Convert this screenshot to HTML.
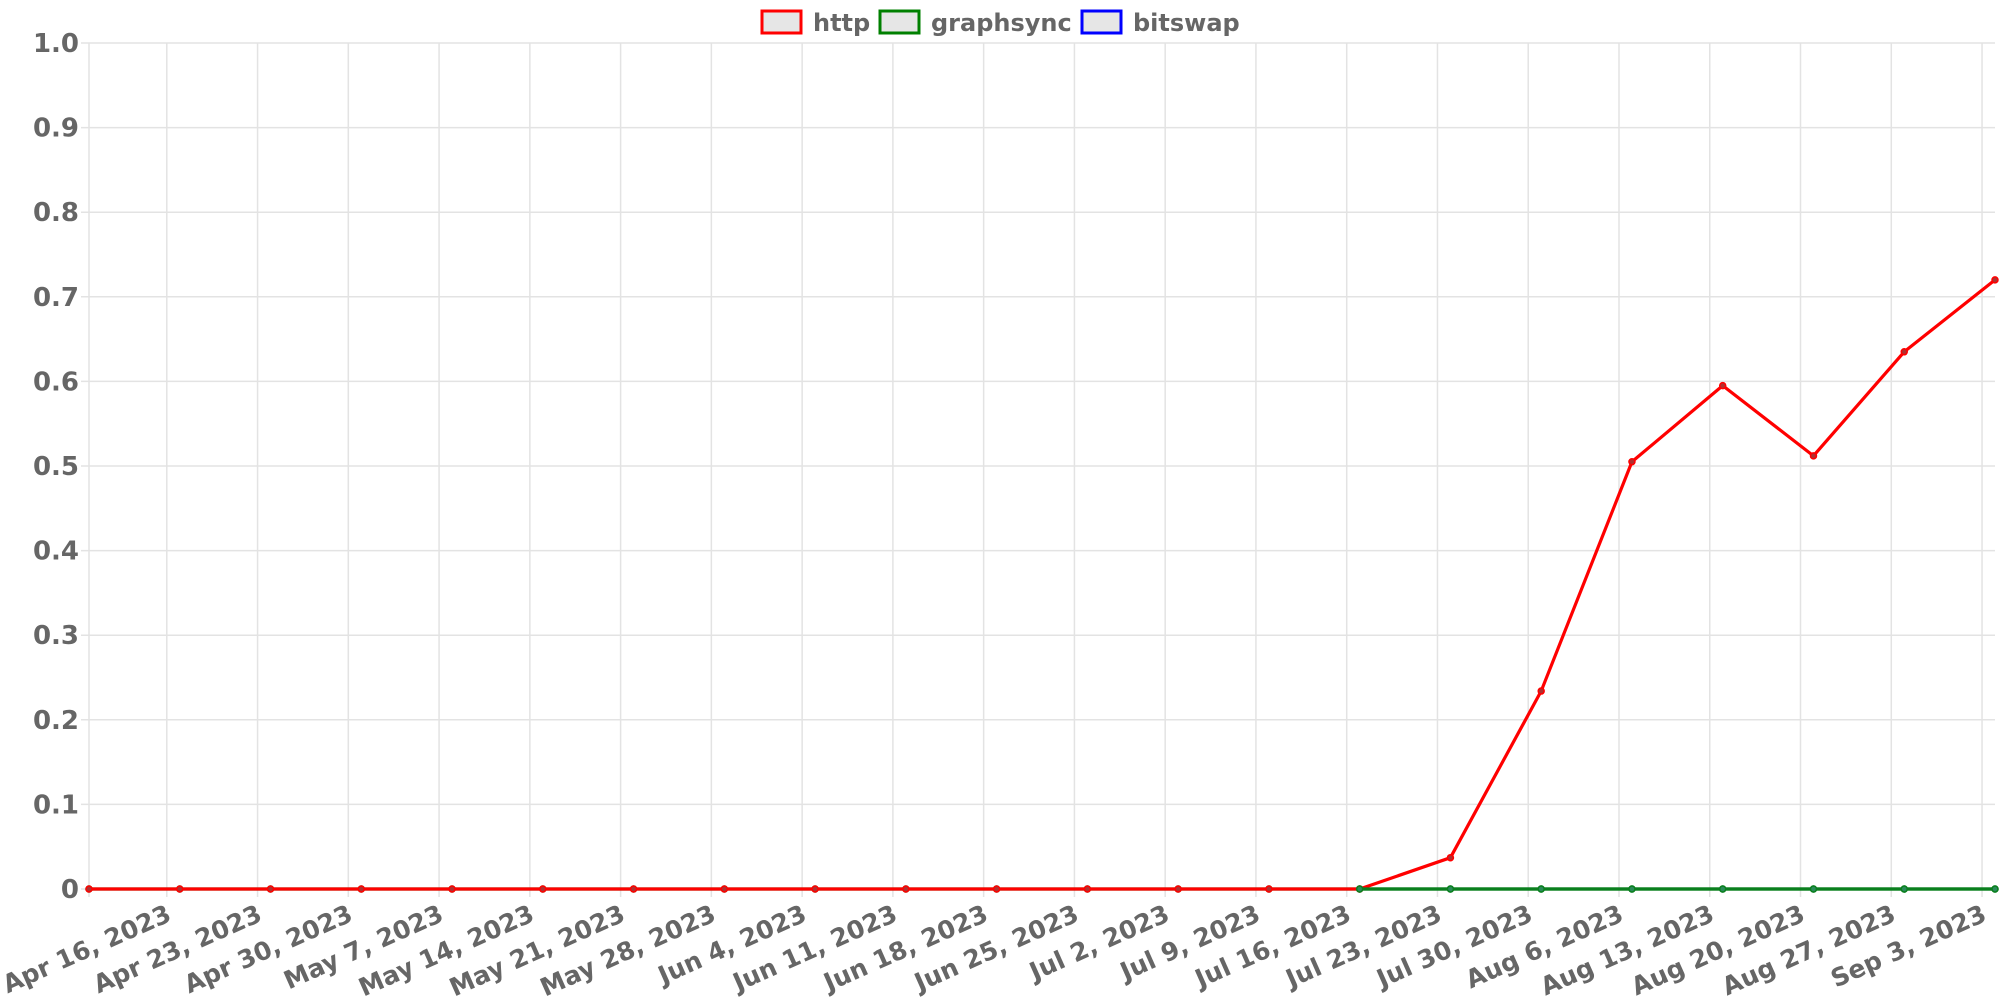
<!DOCTYPE html>
<html><head><meta charset="utf-8"><style>
body{margin:0;background:#fff}
svg{display:block;font-family:"DejaVu Sans","Liberation Sans",sans-serif;font-weight:bold}
</style></head><body>
<svg id="chart" width="2000" height="1000" viewBox="0 0 2000 1000" xmlns="http://www.w3.org/2000/svg">
<g id="grid"></g>
<g id="ylabels"></g>
<g id="xlabels"></g>
<g id="series"></g>
<g font-size="24" fill="#666">
  <g><rect x="762" y="11" width="39" height="22" fill="#e6e6e6" stroke="red" stroke-width="3"/><text x="813" y="31">http</text></g>
  <g><rect x="880" y="11" width="39" height="22" fill="#e6e6e6" stroke="green" stroke-width="3"/><text x="931" y="31">graphsync</text></g>
  <g><rect x="1082" y="11" width="39" height="22" fill="#e6e6e6" stroke="blue" stroke-width="3"/><text x="1133" y="31">bitswap</text></g>
</g>
</svg>
<script>
const dayOffsets=[0,7,14,21,28,35,42,49,56,63,70,77,84,91,98,105,112,119,126,133,140,147]; // days from Apr 10, 2023
const httpValues=[0,0,0,0,0,0,0,0,0,0,0,0,0,0,0,0.037,0.234,0.505,0.595,0.512,0.635,0.72];
const graphsyncValues=[0,0,0,0,0,0,0,0,0,0,0,0,0,0,0,0,0,0,0,0,0,0];
const tickDays=[6,13,20,27,34,41,48,55,62,69,76,83,90,97,104,111,118,125,132,139,146];
const tickLabels=["Apr 16, 2023","Apr 23, 2023","Apr 30, 2023","May 7, 2023","May 14, 2023","May 21, 2023","May 28, 2023","Jun 4, 2023","Jun 11, 2023","Jun 18, 2023","Jun 25, 2023","Jul 2, 2023","Jul 9, 2023","Jul 16, 2023","Jul 23, 2023","Jul 30, 2023","Aug 6, 2023","Aug 13, 2023","Aug 20, 2023","Aug 27, 2023","Sep 3, 2023"];
const yTicks=[0,0.1,0.2,0.3,0.4,0.5,0.6,0.7,0.8,0.9,1.0];
const yTickLabels=["0","0.1","0.2","0.3","0.4","0.5","0.6","0.7","0.8","0.9","1.0"];
const X0=89,X1=1995,Y0=889,Y1=43;
const xs=d=>X0+(X1-X0)*d/147;
const ys=v=>Y0+(Y1-Y0)*v;
const NS="http://www.w3.org/2000/svg";
function mk(tag,attrs,parent){const e=document.createElementNS(NS,tag);for(const k in attrs)e.setAttribute(k,attrs[k]);parent.appendChild(e);return e;}
const grid=document.getElementById('grid'),yl=document.getElementById('ylabels'),xl=document.getElementById('xlabels'),ser=document.getElementById('series');
mk('line',{x1:X0,y1:Y1,x2:X0,y2:Y0+8,stroke:'#e3e3e3','stroke-width':1.5},grid);
yTicks.forEach((v,i)=>{
  const l=mk('line',{x1:X0-8,y1:ys(v),x2:X1,y2:ys(v),stroke:'#e3e3e3','stroke-width':1.5},grid);
  
  
  const t=mk('text',{x:79,y:ys(v)+9,'text-anchor':'end','font-size':26,fill:'#666'},yl);
  t.textContent=yTickLabels[i];
  
  
});
tickDays.forEach((d,i)=>{
  const x=xs(d);
  const l=mk('line',{x1:x,y1:Y1,x2:x,y2:Y0+8,stroke:'#e3e3e3','stroke-width':1.5},grid);
  
  
  const t=mk('text',{x:x+6,y:920,'text-anchor':'end','font-size':25,fill:'#666',transform:`rotate(-24 ${x+6} 920)`},xl);
  t.textContent=tickLabels[i];
  
  
});
function drawSeries(vals,color,pt,name){
  const p=mk('polyline',{points:vals.map((v,i)=>xs(dayOffsets[i])+','+ys(v)).join(' '),fill:'none',stroke:color,'stroke-width':3.2,'stroke-linejoin':'round'},ser);
  
  
  vals.forEach((v,i)=>{
    const c=mk('circle',{cx:xs(dayOffsets[i]),cy:ys(v),r:3,fill:pt,stroke:color,'stroke-width':1.5},ser);
    
    
  });
}
drawSeries(graphsyncValues,'#0a7f1e','#2a8a5a','graphsync');
drawSeries(httpValues,'red','#b03030','http');
const gs=graphsyncValues.slice(14);
const p2=mk('polyline',{points:gs.map((v,i)=>xs(dayOffsets[i+14])+','+ys(v)).join(' '),fill:'none',stroke:'#0a7f1e','stroke-width':3.2},ser);


gs.forEach((v,i)=>{
  const c=mk('circle',{cx:xs(dayOffsets[i+14]),cy:ys(v),r:3,fill:'#2a8a5a',stroke:'#0a7f1e','stroke-width':1.5},ser);
  
  
});
</script>
</body></html>
